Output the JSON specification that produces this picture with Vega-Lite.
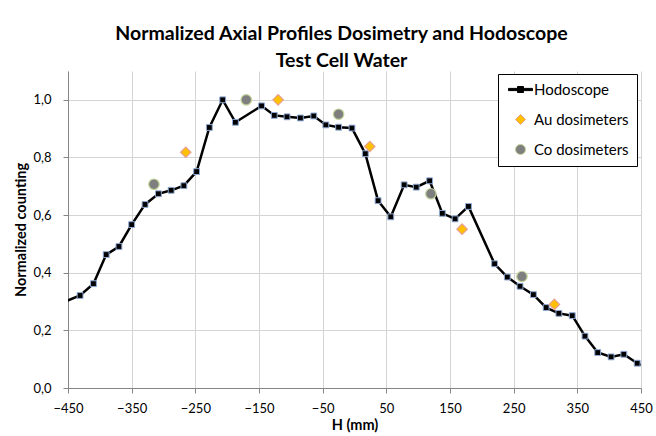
{
  "$schema": "https://vega.github.io/schema/vega-lite/v6.json",
  "width": 573,
  "height": 317,
  "autosize": {"type": "none"},
  "padding": {"left": 68, "top": 71, "right": 15, "bottom": 48},
  "background": "white",
  "config": {
    "view": {"stroke": null},
    "font": "Lato",
    "axis": {
      "labelFont": "Lato", "labelFontSize": 13, "labelColor": "#000000",
      "titleFont": "Lato", "titleFontSize": 14.5, "titleFontWeight": "bold", "titleColor": "#000000",
      "gridColor": "#D4D4D4", "gridWidth": 1,
      "domainColor": "#868686", "tickColor": "#868686", "tickSize": 5
    }
  },
  "title": {
    "text": ["Normalized Axial Profiles Dosimetry and Hodoscope", "Test Cell Water"],
    "font": "Lato", "fontSize": 19.5, "fontWeight": "bold", "color": "#000000",
    "anchor": "middle", "frame": "group", "dx": -13, "offset": 0, "lineHeight": 27
  },
  "datasets": {
    "hodo": [
      {"H": -471, "v": 0.285},
      {"H": -431, "v": 0.321},
      {"H": -410, "v": 0.362},
      {"H": -390, "v": 0.463},
      {"H": -370, "v": 0.491},
      {"H": -350, "v": 0.567},
      {"H": -329, "v": 0.637},
      {"H": -308, "v": 0.674},
      {"H": -288, "v": 0.686},
      {"H": -268, "v": 0.702},
      {"H": -248, "v": 0.751},
      {"H": -228, "v": 0.904},
      {"H": -207, "v": 1.0},
      {"H": -187, "v": 0.922},
      {"H": -146, "v": 0.979},
      {"H": -126, "v": 0.946},
      {"H": -106, "v": 0.941},
      {"H": -85, "v": 0.937},
      {"H": -64, "v": 0.944},
      {"H": -45, "v": 0.913},
      {"H": -25, "v": 0.905},
      {"H": -4, "v": 0.902},
      {"H": 17, "v": 0.813},
      {"H": 37, "v": 0.65},
      {"H": 57, "v": 0.594},
      {"H": 78, "v": 0.705},
      {"H": 97, "v": 0.697},
      {"H": 118, "v": 0.719},
      {"H": 138, "v": 0.606},
      {"H": 158, "v": 0.587},
      {"H": 179, "v": 0.63},
      {"H": 220, "v": 0.431},
      {"H": 240, "v": 0.385},
      {"H": 260, "v": 0.353},
      {"H": 281, "v": 0.324},
      {"H": 301, "v": 0.279},
      {"H": 321, "v": 0.259},
      {"H": 342, "v": 0.251},
      {"H": 362, "v": 0.18},
      {"H": 382, "v": 0.123},
      {"H": 403, "v": 0.108},
      {"H": 423, "v": 0.117},
      {"H": 444, "v": 0.086},
      {"H": 464, "v": 0.066}
    ],
    "dosi": [
      {"series": "Au dosimeters", "H": -265, "v": 0.818},
      {"series": "Au dosimeters", "H": -120, "v": 1.0},
      {"series": "Au dosimeters", "H": 24, "v": 0.838},
      {"series": "Au dosimeters", "H": 169, "v": 0.551},
      {"series": "Au dosimeters", "H": 314, "v": 0.29},
      {"series": "Co dosimeters", "H": -315, "v": 0.707},
      {"series": "Co dosimeters", "H": -170, "v": 1.0},
      {"series": "Co dosimeters", "H": -25, "v": 0.95},
      {"series": "Co dosimeters", "H": 120, "v": 0.674},
      {"series": "Co dosimeters", "H": 263, "v": 0.387}
    ]
  },
  "layer": [
    {
      "data": {"name": "hodo"},
      "mark": {"type": "line", "color": "#000000", "strokeWidth": 2.5, "clip": true},
      "encoding": {
        "x": {
          "field": "H", "type": "quantitative",
          "scale": {"domain": [-450, 450], "nice": false, "zero": false},
          "axis": {
            "title": "H (mm)",
            "values": [-450, -400, -350, -300, -250, -200, -150, -100, -50, 0, 50, 100, 150, 200, 250, 300, 350, 400, 450],
            "labelExpr": "(datum.value + 450) % 100 == 0 ? datum.label : ''",
            "tickOpacity": {"condition": {"test": "(datum.value + 450) % 100 == 0", "value": 1}, "value": 0},
            "labelPadding": 9, "titlePadding": 3, "labelFlush": false
          }
        },
        "y": {
          "field": "v", "type": "quantitative",
          "scale": {"domain": [0, 1.1], "nice": false},
          "axis": {
            "title": "Normalized counting",
            "values": [0, 0.1, 0.2, 0.3, 0.4, 0.5, 0.6, 0.7, 0.8, 0.9, 1.0, 1.1],
            "labelExpr": "round(datum.value * 10) % 2 == 0 ? replace(format(datum.value, '.1f'), '.', ',') : ''",
            "tickOpacity": {"condition": {"test": "round(datum.value * 10) % 2 == 0", "value": 1}, "value": 0},
            "labelPadding": 12, "titlePadding": 4
          }
        }
      }
    },
    {
      "data": {"name": "hodo"},
      "mark": {"type": "point", "shape": "square", "filled": true, "fill": "#000000", "stroke": "#8EA9D4", "strokeWidth": 1, "size": 34, "opacity": 1, "clip": true},
      "encoding": {
        "x": {"field": "H", "type": "quantitative"},
        "y": {"field": "v", "type": "quantitative"}
      }
    },
    {
      "data": {"name": "dosi"},
      "mark": {"type": "point", "filled": true, "size": 110, "strokeWidth": 1.2, "opacity": 1},
      "encoding": {
        "x": {"field": "H", "type": "quantitative"},
        "y": {"field": "v", "type": "quantitative"},
        "shape": {
          "field": "series", "type": "nominal",
          "scale": {
            "domain": ["Hodoscope", "Au dosimeters", "Co dosimeters"],
            "range": ["M-2.4,-0.22H2.4V0.22H-2.4Z M-0.6,-0.6H0.6V0.6H-0.6Z", "diamond", "circle"]
          },
          "legend": {
            "title": null, "orient": "none", "legendX": 430, "legendY": 3,
            "padding": 8, "strokeColor": "#000000", "fillColor": "#FFFFFF",
            "symbolSize": 100, "symbolOffset": 7, "labelOffset": 6, "rowPadding": 14,
            "labelFont": "Lato", "labelFontSize": 15, "labelColor": "#000000",
            "symbolStrokeWidth": 1, "cornerRadius": 0
          }
        },
        "fill": {
          "field": "series", "type": "nominal",
          "scale": {
            "domain": ["Hodoscope", "Au dosimeters", "Co dosimeters"],
            "range": ["#000000", "#FFC000", "#7F7F7F"]
          },
          "legend": {
            "title": null, "orient": "none", "legendX": 430, "legendY": 3,
            "padding": 8, "strokeColor": "#000000", "fillColor": "#FFFFFF",
            "symbolSize": 100, "symbolOffset": 7, "labelOffset": 6, "rowPadding": 14,
            "labelFont": "Lato", "labelFontSize": 15, "labelColor": "#000000",
            "symbolStrokeWidth": 1, "cornerRadius": 0
          }
        },
        "stroke": {
          "field": "series", "type": "nominal",
          "scale": {
            "domain": ["Hodoscope", "Au dosimeters", "Co dosimeters"],
            "range": ["#000000", "#E8A090", "#C3D69B"]
          },
          "legend": {
            "title": null, "orient": "none", "legendX": 430, "legendY": 3,
            "padding": 8, "strokeColor": "#000000", "fillColor": "#FFFFFF",
            "symbolSize": 100, "symbolOffset": 7, "labelOffset": 6, "rowPadding": 14,
            "labelFont": "Lato", "labelFontSize": 15, "labelColor": "#000000",
            "symbolStrokeWidth": 1, "cornerRadius": 0
          }
        }
      }
    }
  ]
}
